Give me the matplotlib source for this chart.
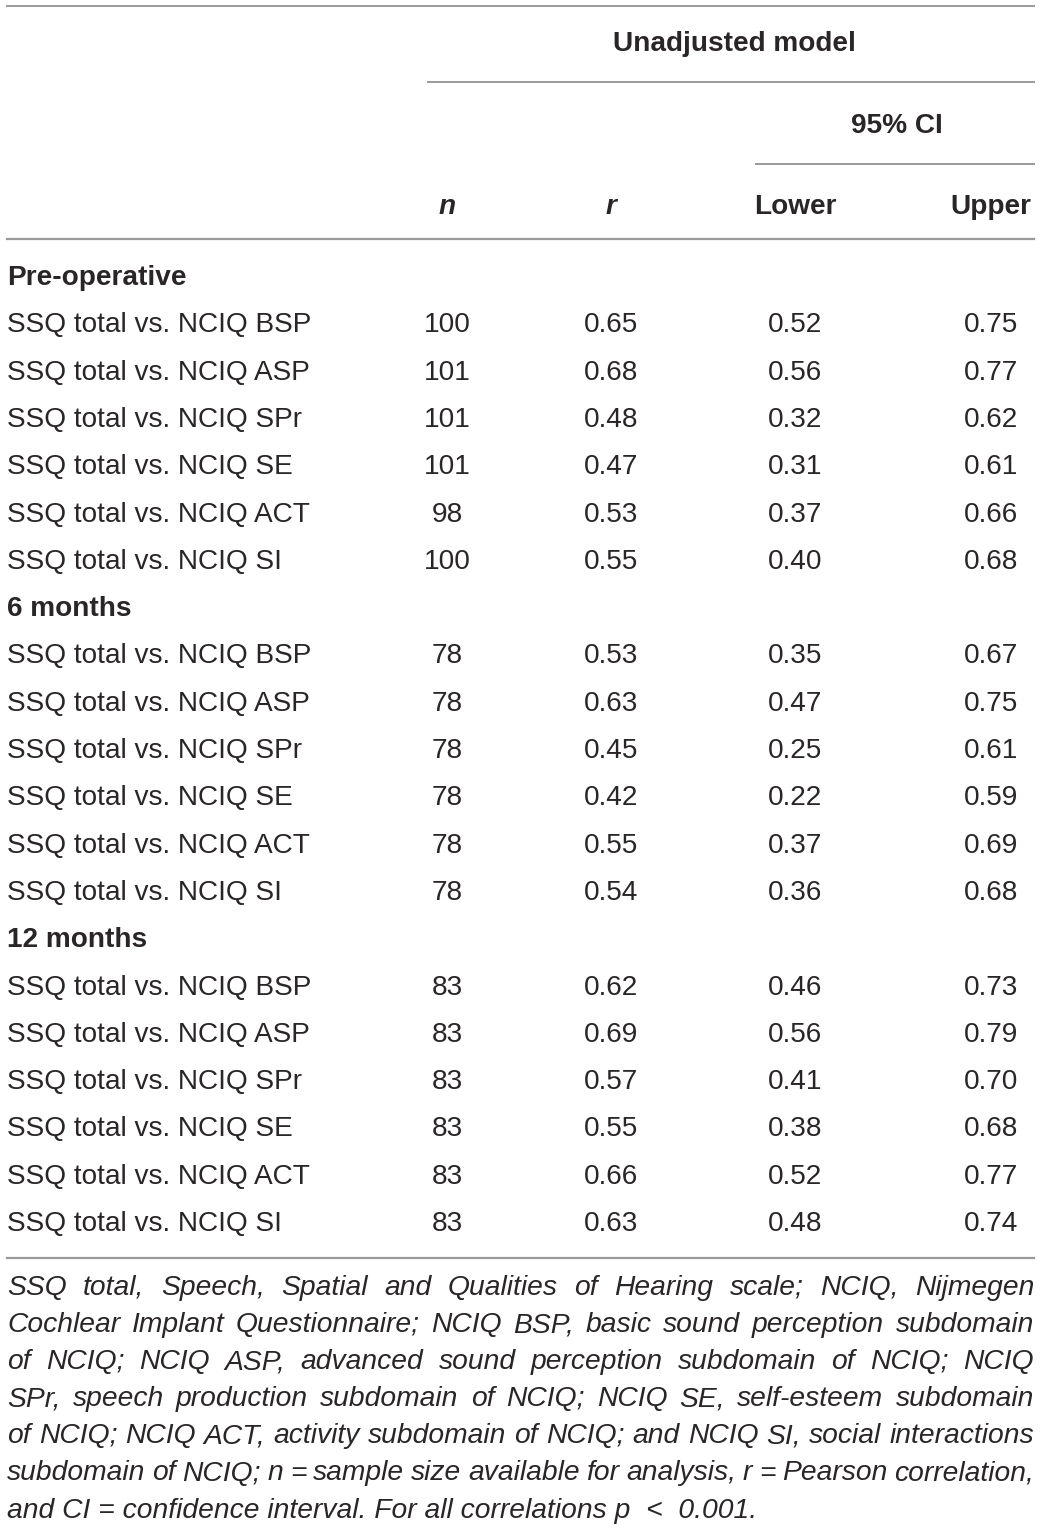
import matplotlib
matplotlib.use("Agg")
import matplotlib.pyplot as plt

plt.rcParams['font.family'] = ['Liberation Sans', 'DejaVu Sans']

# table content
sections = ["Pre-operative", "6 months", "12 months"]
row_labels = [
    "SSQ total vs. NCIQ BSP",
    "SSQ total vs. NCIQ ASP",
    "SSQ total vs. NCIQ SPr",
    "SSQ total vs. NCIQ SE",
    "SSQ total vs. NCIQ ACT",
    "SSQ total vs. NCIQ SI",
]
n_vals = [
    [100, 101, 101, 101, 98, 100],
    [78, 78, 78, 78, 78, 78],
    [83, 83, 83, 83, 83, 83],
]
r_vals = [
    [0.65, 0.68, 0.48, 0.47, 0.53, 0.55],
    [0.53, 0.63, 0.45, 0.42, 0.55, 0.54],
    [0.62, 0.69, 0.57, 0.55, 0.66, 0.63],
]
lower_vals = [
    [0.52, 0.56, 0.32, 0.31, 0.37, 0.40],
    [0.35, 0.47, 0.25, 0.22, 0.37, 0.36],
    [0.46, 0.56, 0.41, 0.38, 0.52, 0.48],
]
upper_vals = [
    [0.75, 0.77, 0.62, 0.61, 0.66, 0.68],
    [0.67, 0.75, 0.61, 0.59, 0.69, 0.68],
    [0.73, 0.79, 0.70, 0.68, 0.77, 0.74],
]
footnote_lines = [
    "SSQ total, Speech, Spatial and Qualities of Hearing scale; NCIQ, Nijmegen",
    "Cochlear Implant Questionnaire; NCIQ BSP, basic sound perception subdomain",
    "of NCIQ; NCIQ ASP, advanced sound perception subdomain of NCIQ; NCIQ",
    "SPr, speech production subdomain of NCIQ; NCIQ SE, self-esteem subdomain",
    "of NCIQ; NCIQ ACT, activity subdomain of NCIQ; and NCIQ SI, social interactions",
    "subdomain of NCIQ; n = sample size available for analysis, r = Pearson correlation,",
    "and CI = confidence interval. For all correlations p  <  0.001.",
]

TXT = '#2a2627'
LINE = '#9a9a9a'
FS = 20.2
FS_NOTE = 20.3
LEFT, RIGHT = 7, 1034
col_x = [447, 611, 795, 991]

fig = plt.figure(figsize=(10.4, 15.3), dpi=100)
ax = fig.add_axes([0, 0, 1, 1])
ax.set_xlim(0, 1040)
ax.set_ylim(1530, 0)
ax.axis('off')

# header
ax.plot([LEFT, RIGHT], [6, 6], color=LINE, lw=1.4)
ax.text(734, 44, "Unadjusted model", ha='center', va='center', fontsize=FS,
        fontweight='bold', color=TXT)
ax.plot([428, RIGHT], [82, 82], color=LINE, lw=1.4)
ax.text(897, 126, "95% CI", ha='center', va='center', fontsize=FS,
        fontweight='bold', color=TXT)
ax.plot([756, RIGHT], [164, 164], color=LINE, lw=1.4)
for x, lab, st in zip(col_x, ["n", "r", "Lower", "Upper"],
                      ['italic', 'italic', 'normal', 'normal']):
    ax.text(x, 207, lab, ha='center', va='center', fontsize=FS,
            fontweight='bold', style=st, color=TXT)
ax.plot([LEFT, RIGHT], [239, 239], color=LINE, lw=1.6)

# body
y0, dy = 278, 47.3
k = 0
for s, sec in enumerate(sections):
    ax.text(LEFT, y0 + k * dy, sec, ha='left', va='center', fontsize=FS,
            fontweight='bold', color=TXT)
    k += 1
    for i, lab in enumerate(row_labels):
        y = y0 + k * dy
        ax.text(LEFT, y, lab, ha='left', va='center', fontsize=FS, color=TXT)
        vals = [str(n_vals[s][i]), f"{r_vals[s][i]:.2f}",
                f"{lower_vals[s][i]:.2f}", f"{upper_vals[s][i]:.2f}"]
        for x, v in zip(col_x, vals):
            ax.text(x, y, v, ha='center', va='center', fontsize=FS, color=TXT)
        k += 1

ax.plot([LEFT, RIGHT], [1258, 1258], color=LINE, lw=1.6)

# justified italic footnote
fig.canvas.draw()
renderer = fig.canvas.get_renderer()
note_y0, note_dy = 1288, 37.1
for li, line in enumerate(footnote_lines):
    y = note_y0 + li * note_dy
    if li == len(footnote_lines) - 1:
        ax.text(LEFT, y, line, ha='left', va='center', fontsize=FS_NOTE,
                style='italic', color=TXT)
        continue
    words = line.split(" ")
    texts = [ax.text(0, y, w, ha='left', va='center', fontsize=FS_NOTE,
                     style='italic', color=TXT) for w in words]
    widths = [t.get_window_extent(renderer).width for t in texts]
    gap = (RIGHT - LEFT - sum(widths)) / (len(words) - 1)
    x = LEFT
    for t, w in zip(texts, widths):
        t.set_x(x)
        x += w + gap

fig.savefig("out.png", dpi=100)
